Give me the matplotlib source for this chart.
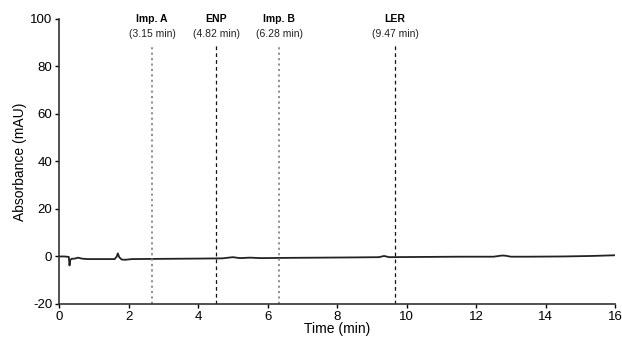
import numpy as np
import matplotlib.pyplot as plt

plt.rcParams['font.family'] = ['Liberation Sans', 'DejaVu Sans']
plt.rcParams['axes.unicode_minus'] = False

# chromatogram trace
time = [0.0, 0.15, 0.28, 0.30, 0.32, 0.36, 0.45, 0.55, 0.65, 0.8, 1.2, 1.6, 1.66, 1.69, 1.73,
        1.8, 1.9, 2.1, 3.0, 4.0, 4.7, 5.0, 5.2, 5.5, 5.8, 6.5, 7.5, 8.5, 9.2, 9.35, 9.5,
        10.5, 11.5, 12.5, 12.75, 12.85, 13.0, 13.5, 14.5, 15.3, 16.0]
absorbance = [0.0, 0.0, -0.2, -3.8, -1.5, -1.0, -0.9, -0.5, -0.9, -1.1, -1.1, -1.1, 0.0, 1.3, -0.3,
              -1.3, -1.4, -1.1, -1.0, -0.9, -0.8, -0.3, -0.7, -0.5, -0.7, -0.6, -0.5, -0.4, -0.3, 0.2, -0.3,
              -0.2, -0.1, -0.1, 0.4, 0.3, -0.1, -0.1, 0.0, 0.2, 0.5]

# marker lines and their labels
peak_names = ['Imp. A', 'ENP', 'Imp. B', 'LER']
peak_labels = ['(3.15 min)', '(4.82 min)', '(6.28 min)', '(9.47 min)']
line_pos = [2.68, 4.52, 6.33, 9.67]
dotted = [True, False, True, False]

fig = plt.figure(figsize=(6.22, 3.37), dpi=100)
ax = fig.add_axes([0.095, 0.098, 0.894, 0.846])

ax.plot(time, absorbance, color='#222222', lw=1.3)

for x, name, lab, dot in zip(line_pos, peak_names, peak_labels, dotted):
    if dot:
        ax.plot([x, x], [-20, 89], ls=(0, (1.2, 1.8)), color='#888888', lw=1.3)
    else:
        ax.plot([x, x], [-20, 89], ls=(0, (3, 2.5)), color='#111111', lw=0.9)
    ax.text(x, 100, name, ha='center', va='center', fontsize=7.5, fontweight='bold')
    ax.text(x, 93.6, lab, ha='center', va='center', fontsize=7.5, color='#222222')

ax.set_xlim(0, 16)
ax.set_ylim(-20, 100)
ax.set_xticks(np.arange(0, 17, 2))
ax.set_yticks(np.arange(-20, 101, 20))
ax.tick_params(direction='out', length=3, labelsize=9.5, width=1, pad=2)
for s in ['top', 'right']:
    ax.spines[s].set_visible(False)
for s in ['left', 'bottom']:
    ax.spines[s].set_linewidth(1.2)
    ax.spines[s].set_color('#333333')

ax.set_xlabel('Time (min)', fontsize=10, labelpad=-1)
ax.set_ylabel('Absorbance (mAU)', fontsize=10, labelpad=2)

fig.savefig('out.png', dpi=100)
